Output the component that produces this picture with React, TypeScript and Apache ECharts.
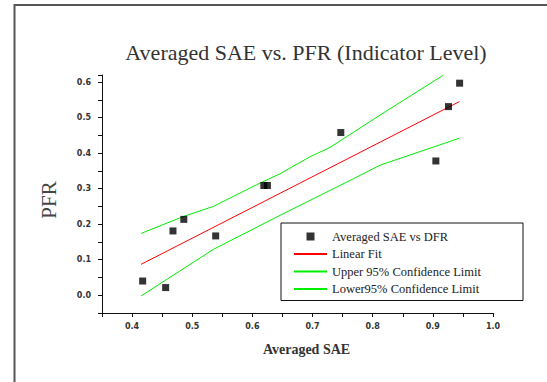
import React, { useEffect, useRef } from 'react';
import * as echarts from 'echarts';

// Scatter data (Averaged SAE vs PFR)
const sae = [0.4176, 0.4558, 0.468, 0.486, 0.539, 0.619, 0.625, 0.747, 0.905, 0.926, 0.9445];
const pfr = [0.04, 0.0216, 0.181, 0.2136, 0.167, 0.309, 0.309, 0.458, 0.378, 0.531, 0.597];

// Linear fit line
const fitX = [0.415, 0.944];
const fitY = [0.087, 0.545];

// Upper 95% confidence limit
const upperX = [0.415, 0.486, 0.535, 0.607, 0.646, 0.696, 0.729, 0.812, 0.917];
const upperY = [0.174, 0.222, 0.25, 0.311, 0.342, 0.39, 0.416, 0.507, 0.619];

// Lower 95% confidence limit
const lowerX = [0.415, 0.535, 0.646, 0.768, 0.812, 0.944];
const lowerY = [-0.002, 0.129, 0.225, 0.328, 0.366, 0.442];

// Axis ranges and tick labels
const xRange = [0.35, 1.0];
const yRange = [-0.05, 0.62];
const tickStep = 0.05;
const xTickLabels = ['0.4', '0.5', '0.6', '0.7', '0.8', '0.9', '1.0'];
const yTickLabels = ['0.0', '0.1', '0.2', '0.3', '0.4', '0.5', '0.6'];

const names = [
  'Averaged SAE vs DFR',
  'Linear Fit',
  'Upper 95% Confidence Limit',
  'Lower95% Confidence Limit',
];

const zip = (xs: number[], ys: number[]) => xs.map((x, i) => [x, ys[i]]);
const labelFor = (labels: string[]) => (v: number) => {
  const s = (Math.round(v * 100) / 100).toFixed(2);
  const short = s.endsWith('0') ? s.slice(0, -1) : '';
  return labels.includes(short) ? short : '';
};

export default function App() {
  const ref = useRef<HTMLDivElement>(null);

  useEffect(() => {
    if (!ref.current) return;
    const chart = echarts.init(ref.current, null, { renderer: 'svg' });
    const serif = '"Liberation Serif", "Times New Roman", serif';
    const axisColor = '#111';
    const labelStyle = {
      fontFamily: '"DejaVu Sans", sans-serif',
      fontSize: 8,
      fontWeight: 'bold' as const,
      color: '#333',
    };
    chart.setOption({
      animation: false,
      backgroundColor: '#fff',
      title: {
        text: 'Averaged SAE vs. PFR (Indicator Level)',
        left: 301,
        top: 36,
        textAlign: 'center',
        textStyle: { fontFamily: serif, fontSize: 22, fontWeight: 'normal', color: '#333' },
      },
      grid: { left: 102, top: 75, width: 391, height: 238, containLabel: false },
      legend: {
        orient: 'vertical',
        left: 281,
        top: 223,
        padding: [7, 5, 5, 12],
        itemWidth: 33,
        itemHeight: 8,
        itemGap: 4.5,
        borderColor: '#111',
        borderWidth: 1,
        backgroundColor: '#fff',
        selectedMode: false,
        symbolKeepAspect: true,
        data: [
          { name: names[0], icon: 'path://M0,0L10,0L10,10L0,10Z' },
          { name: names[1], itemStyle: { opacity: 0 } },
          { name: names[2], itemStyle: { opacity: 0 } },
          { name: names[3], itemStyle: { opacity: 0 } },
        ],
        textStyle: {
          fontFamily: serif,
          fontSize: 12.5,
          color: '#222',
          lineHeight: 12,
          width: 186,
        },
      },
      xAxis: {
        type: 'value',
        min: xRange[0],
        max: xRange[1],
        interval: tickStep,
        position: 'bottom',
        name: 'Averaged SAE',
        nameLocation: 'middle',
        nameGap: 29,
        nameTextStyle: {
          fontFamily: serif,
          fontSize: 14,
          fontWeight: 'bold',
          color: '#333',
          padding: [0, 0, 0, 18],
        },
        axisLine: { show: true, onZero: false, lineStyle: { color: axisColor, width: 1 } },
        axisTick: { show: true, inside: false, length: 4, lineStyle: { color: axisColor } },
        axisLabel: {
          show: true,
          margin: 9,
          showMinLabel: true,
          showMaxLabel: true,
          formatter: labelFor(xTickLabels),
          ...labelStyle,
        },
        splitLine: { show: false },
      },
      yAxis: {
        type: 'value',
        min: yRange[0],
        max: yRange[1],
        interval: tickStep,
        position: 'left',
        axisLine: { show: true, onZero: false, lineStyle: { color: axisColor, width: 1 } },
        axisTick: { show: true, inside: false, length: 4, lineStyle: { color: axisColor } },
        axisLabel: {
          show: true,
          margin: 11,
          formatter: labelFor(yTickLabels),
          ...labelStyle,
        },
        splitLine: { show: false },
      },
      graphic: [
        {
          type: 'rect',
          shape: { x: 14.5, y: 5, width: 600, height: 420 },
          style: { fill: 'none', stroke: '#555', lineWidth: 2 },
          silent: true,
          z: 100,
        },
        {
          type: 'text',
          x: 49,
          y: 200,
          rotation: Math.PI / 2,
          style: {
            text: 'PFR',
            fontFamily: serif,
            fontSize: 21,
            fill: '#444',
            align: 'center',
            verticalAlign: 'middle',
          },
        },
      ],
      series: [
        {
          name: names[0],
          type: 'scatter',
          symbol: 'rect',
          symbolSize: 7,
          itemStyle: { color: '#000' },
          data: zip(sae, pfr),
          z: 5,
        },
        {
          name: names[1],
          type: 'line',
          symbol: 'none',
          lineStyle: { color: '#ff0000', width: 1 },
          itemStyle: { color: '#ff0000' },
          data: zip(fitX, fitY),
        },
        {
          name: names[2],
          type: 'line',
          symbol: 'none',
          lineStyle: { color: '#00ee00', width: 1 },
          itemStyle: { color: '#00ee00' },
          data: zip(upperX, upperY),
        },
        {
          name: names[3],
          type: 'line',
          symbol: 'none',
          lineStyle: { color: '#00ee00', width: 1 },
          itemStyle: { color: '#00ee00' },
          data: zip(lowerX, lowerY),
        },
      ],
    });
    return () => chart.dispose();
  }, []);

  return (
    <div
      ref={ref}
      style={{ position: 'absolute', left: 0, top: 0, width: 547, height: 382 }}
    />
  );
}
